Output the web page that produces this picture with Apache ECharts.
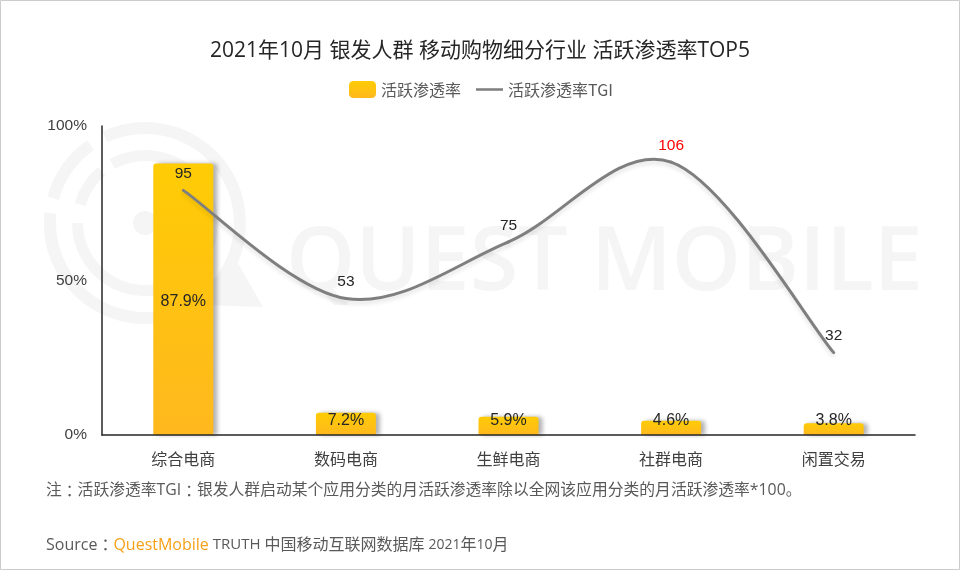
<!DOCTYPE html>
<html lang="zh">
<head>
    <meta charset="UTF-8">
    <title>silver-tgi</title>
    <script src="https://cdn.jsdelivr.net/npm/echarts@6/dist/echarts.min.js"></script>
    <style>
        html, body { margin: 0; padding: 0; background: #fff; }
    </style>
</head>
<body>
<div id="main" style="width: 960px;height:570px;"></div>
<script>
    var categories = ["综合电商", "数码电商", "生鲜电商", "社群电商", "闲置交易"];
    var rateValues = [87.9, 7.2, 5.9, 4.6, 3.8];
    var tgiValues = [95, 53, 75, 106, 32];
    var highlightTgi = 106;
    var rateName = "活跃渗透率";
    var tgiName = "活跃渗透率TGI";

    var cjk = '"Noto Sans CJK SC", sans-serif';
    var latin = '"Liberation Sans", Arial, sans-serif';
    var mixed = '"Open Sans", "Noto Sans CJK SC", sans-serif';
    var markColor = "#f5f5f5";
    var lineColor = "#7f7f7f";
    var noteColor = "#595959";

    // 水印的圆环
    function ring(r0, r, from, to) {
        return {
            type: "sector", z: 0, silent: true,
            shape: { cx: 145, cy: 223, r0: r0, r: r, startAngle: from * Math.PI / 180, endAngle: to * Math.PI / 180, clockwise: true },
            style: { fill: markColor }
        };
    }

    // 折线用 Catmull-Rom 曲线，波峰才会落在数据点之前
    function renderTgi(params, api) {
        var i = params.dataIndexInside;
        var n = tgiValues.length;
        function pt(k) {
            k = Math.max(0, Math.min(n - 1, k));
            return api.coord([k, tgiValues[k]]);
        }
        var p0 = pt(i - 1), p1 = pt(i), p2 = pt(i + 1), p3 = pt(i + 2);
        var children = [{
            type: "text",
            z2: 10,
            style: {
                text: String(tgiValues[i]),
                x: p1[0],
                y: p1[1] - 16.5,
                align: "center",
                verticalAlign: "middle",
                fontFamily: latin,
                fontSize: 15.5,
                fill: tgiValues[i] === highlightTgi ? "#ff0000" : "#262626"
            }
        }];
        if (i < n - 1) {
            children.push({
                type: "bezierCurve",
                shape: {
                    x1: p1[0], y1: p1[1],
                    x2: p2[0], y2: p2[1],
                    cpx1: p1[0] + (p2[0] - p0[0]) / 6, cpy1: p1[1] + (p2[1] - p0[1]) / 6,
                    cpx2: p2[0] - (p3[0] - p1[0]) / 6, cpy2: p2[1] - (p3[1] - p1[1]) / 6
                },
                style: {
                    fill: null,
                    stroke: lineColor,
                    lineWidth: 3,
                    lineCap: "round",
                    shadowColor: "rgba(0,0,0,0.12)",
                    shadowBlur: 4,
                    shadowOffsetY: 3
                }
            });
        }
        return { type: "group", children: children };
    }

    var chart = echarts.init(document.getElementById("main"));
    var option = {
        backgroundColor: "#fff",
        animation: false,
        title: {
            text: "2021年10月 银发人群 移动购物细分行业 活跃渗透率TOP5",
            left: "center",
            top: 36,
            textStyle: { fontFamily: mixed, fontSize: 21, fontWeight: "normal", color: "#262626" }
        },
        legend: {
            left: 344,
            top: 76,
            itemWidth: 27,
            itemHeight: 17,
            itemGap: 15,
            textStyle: { fontFamily: cjk, fontSize: 16, color: noteColor },
            data: [
                { name: rateName, icon: "roundRect" },
                { name: tgiName, icon: "path://M0,0 L0,0 M0,7 L32,7 L32,10 L0,10 Z M0,17 L0,17" }
            ]
        },
        grid: { left: 102, right: 45, top: 126, bottom: 135, containLabel: false },
        xAxis: [{
            type: "category",
            data: categories,
            z: 4,
            axisTick: { show: false },
            axisLine: { lineStyle: { color: "#262626", width: 1.5 } },
            axisLabel: { margin: 16, fontFamily: cjk, fontSize: 16, color: "#404040" }
        }],
        yAxis: [{
            type: "value",
            min: 0, max: 100, interval: 50,
            splitLine: { show: false },
            axisTick: { show: false },
            axisLine: { show: true, lineStyle: { color: "#262626", width: 1.5 } },
            axisLabel: { margin: 15, formatter: "{value}%", fontFamily: latin, fontSize: 15.5, color: "#404040" }
        }, {
            type: "value",
            min: 0, max: 120,
            show: false,
            splitLine: { show: false }
        }],
        series: [{
            name: rateName,
            type: "bar",
            barWidth: 60,
            z: 2,
            itemStyle: {
                borderRadius: [3, 3, 0, 0],
                color: new echarts.graphic.LinearGradient(0, 0, 0, 1, [
                    { offset: 0, color: "#FFCC05" },
                    { offset: 1, color: "#FFB81E" }
                ]),
                shadowColor: "rgba(0,0,0,0.3)",
                shadowBlur: 4,
                shadowOffsetX: 4,
                shadowOffsetY: 0
            },
            label: {
                show: true,
                position: "insideBottom",
                distance: 6,
                formatter: "{c}%",
                fontFamily: latin,
                fontSize: 16,
                color: "#262626"
            },
            data: rateValues.map(function (v, i) {
                return i === 0 ? { value: v, label: { position: "inside", offset: [0, 2] } } : v;
            })
        }, {
            name: tgiName,
            type: "custom",
            yAxisIndex: 1,
            z: 3,
            clip: false,
            itemStyle: { color: lineColor },
            renderItem: renderTgi,
            encode: { x: 0, y: 1 },
            data: tgiValues.map(function (v, i) { return [i, v]; })
        }],
        graphic: [
            { type: "rect", z: 100, silent: true, shape: { x: 0.5, y: 0.5, width: 959, height: 569 }, style: { fill: null, stroke: "#cccccc", lineWidth: 1 } },
            ring(89, 101, -115, 35),
            ring(89, 101, -165, -125),
            ring(89, 101, 54, 186),
            ring(62, 73, -119, 30),
            ring(62, 73, -164, -130),
            ring(62, 73, 60, 180),
            { type: "circle", z: 0, silent: true, shape: { cx: 145, cy: 223, r: 12 }, style: { fill: markColor } },
            { type: "polygon", z: 0, silent: true, shape: { points: [[235, 258], [263, 307], [203, 305], [205, 288]] }, style: { fill: markColor } },
            { type: "text", z: 0, silent: true, x: 286, y: 221, style: { text: "QUEST MOBILE", fontFamily: '"Open Sans", sans-serif', fontSize: 88, fontWeight: 600, fill: markColor } },
            {
                type: "text", z: 5, x: 46, y: 483,
                style: {
                    text: "注{c|：}活跃渗透率TGI{c|：}银发人群启动某个应用分类的月活跃渗透率除以全网该应用分类的月活跃渗透率*100。",
                    fontFamily: mixed, fontSize: 15.8, fill: noteColor,
                    rich: { c: { fontFamily: '"Noto Sans CJK TC"', fontSize: 15.8, fill: noteColor } }
                }
            },
            {
                type: "text", z: 5, x: 46, y: 537,
                style: {
                    text: "Source{c|：}{q|QuestMobile}{t| TRUTH }中国移动互联网数据库 {d|2021}年{d|10}月",
                    fontFamily: mixed, fontSize: 16, fill: noteColor,
                    rich: {
                        c: { fontFamily: '"Noto Sans CJK TC"', fontSize: 16, fill: noteColor },
                        q: { fontFamily: mixed, fontSize: 16, fill: "#F7A11A" },
                        t: { fontFamily: mixed, fontSize: 15, fill: noteColor },
                        d: { fontFamily: mixed, fontSize: 14, fill: noteColor }
                    }
                }
            }
        ]
    };
    chart.setOption(option);
</script>
</body>
</html>
